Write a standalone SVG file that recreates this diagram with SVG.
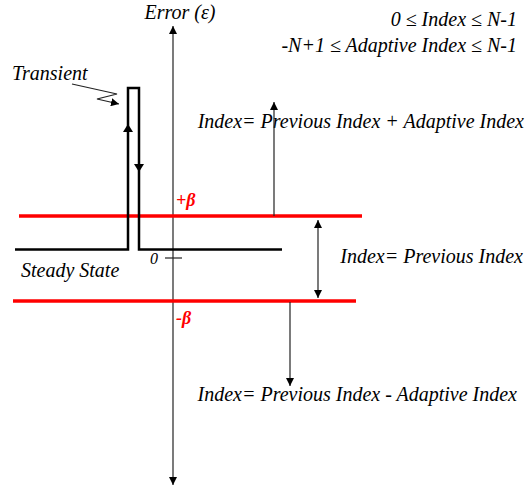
<svg xmlns="http://www.w3.org/2000/svg" width="527" height="498" viewBox="0 0 527 498">
<style>
.thin{stroke:#222;stroke-width:1.2;fill:none}
.sig{stroke:#000;stroke-width:2.5;fill:none}
.band{stroke:#ff0000;stroke-width:3.5}
.head{fill:#000}
</style>
<defs>
<marker id="ah" viewBox="0 0 10 10" refX="10" refY="5" markerWidth="8" markerHeight="8" markerUnits="userSpaceOnUse" orient="auto-start-reverse">
<path d="M0,0 L10,5 L0,10 z" fill="#000"/>
</marker>
</defs>
<g font-family="Liberation Serif" font-style="italic" font-size="20" fill="#000">
<g id="axis">
<line class="thin" x1="173" y1="26" x2="173" y2="485" marker-start="url(#ah)" marker-end="url(#ah)"/>
<line class="thin" x1="165" y1="258" x2="182" y2="258" stroke="#555"/>
<text x="180" y="19" text-anchor="middle">Error (ε)</text>
<text x="150" y="264" font-size="16">0</text>
</g>
<g id="bands">
<line class="band" x1="19" y1="216" x2="362" y2="216"/>
<line class="band" x1="13" y1="301" x2="356" y2="301"/>
<text x="176" y="206" fill="#ff0000" font-weight="bold" font-size="18">+β</text>
<text x="176" y="324" fill="#ff0000" font-weight="bold" font-size="18">-β</text>
</g>
<g id="signal">
<path class="sig" d="M15,249.5 H128 V88 H139 V249.5 H282"/>
<path class="head" d="M128,124 L133,132 L123,132 z"/>
<path class="head" d="M139,172 L134,164 L144,164 z"/>
<text x="21" y="277">Steady State</text>
<text x="12" y="80">Transient</text>
</g>
<g id="constraints">
<text x="517" y="26" text-anchor="end">0 ≤ Index ≤ N-1</text>
<text x="517" y="52" text-anchor="end">-N+1 ≤ Adaptive Index ≤ N-1</text>
</g>
<g id="labels">
<text x="524" y="128" text-anchor="end">Index= Previous Index + Adaptive Index</text>
<text x="523" y="263" text-anchor="end">Index= Previous Index</text>
<text x="517" y="401" text-anchor="end">Index= Previous Index - Adaptive Index</text>
</g>
<g id="connectors">
<path class="thin" d="M72,84 L117,94 L97,99 L119,104" marker-end="url(#ah)"/>
<line class="thin" x1="274" y1="216" x2="274" y2="102" marker-end="url(#ah)"/>
<line class="thin" x1="318" y1="220" x2="318" y2="298" marker-start="url(#ah)" marker-end="url(#ah)"/>
<line class="thin" x1="290" y1="302" x2="290" y2="386" marker-end="url(#ah)"/>
</g>
</g>
</svg>
